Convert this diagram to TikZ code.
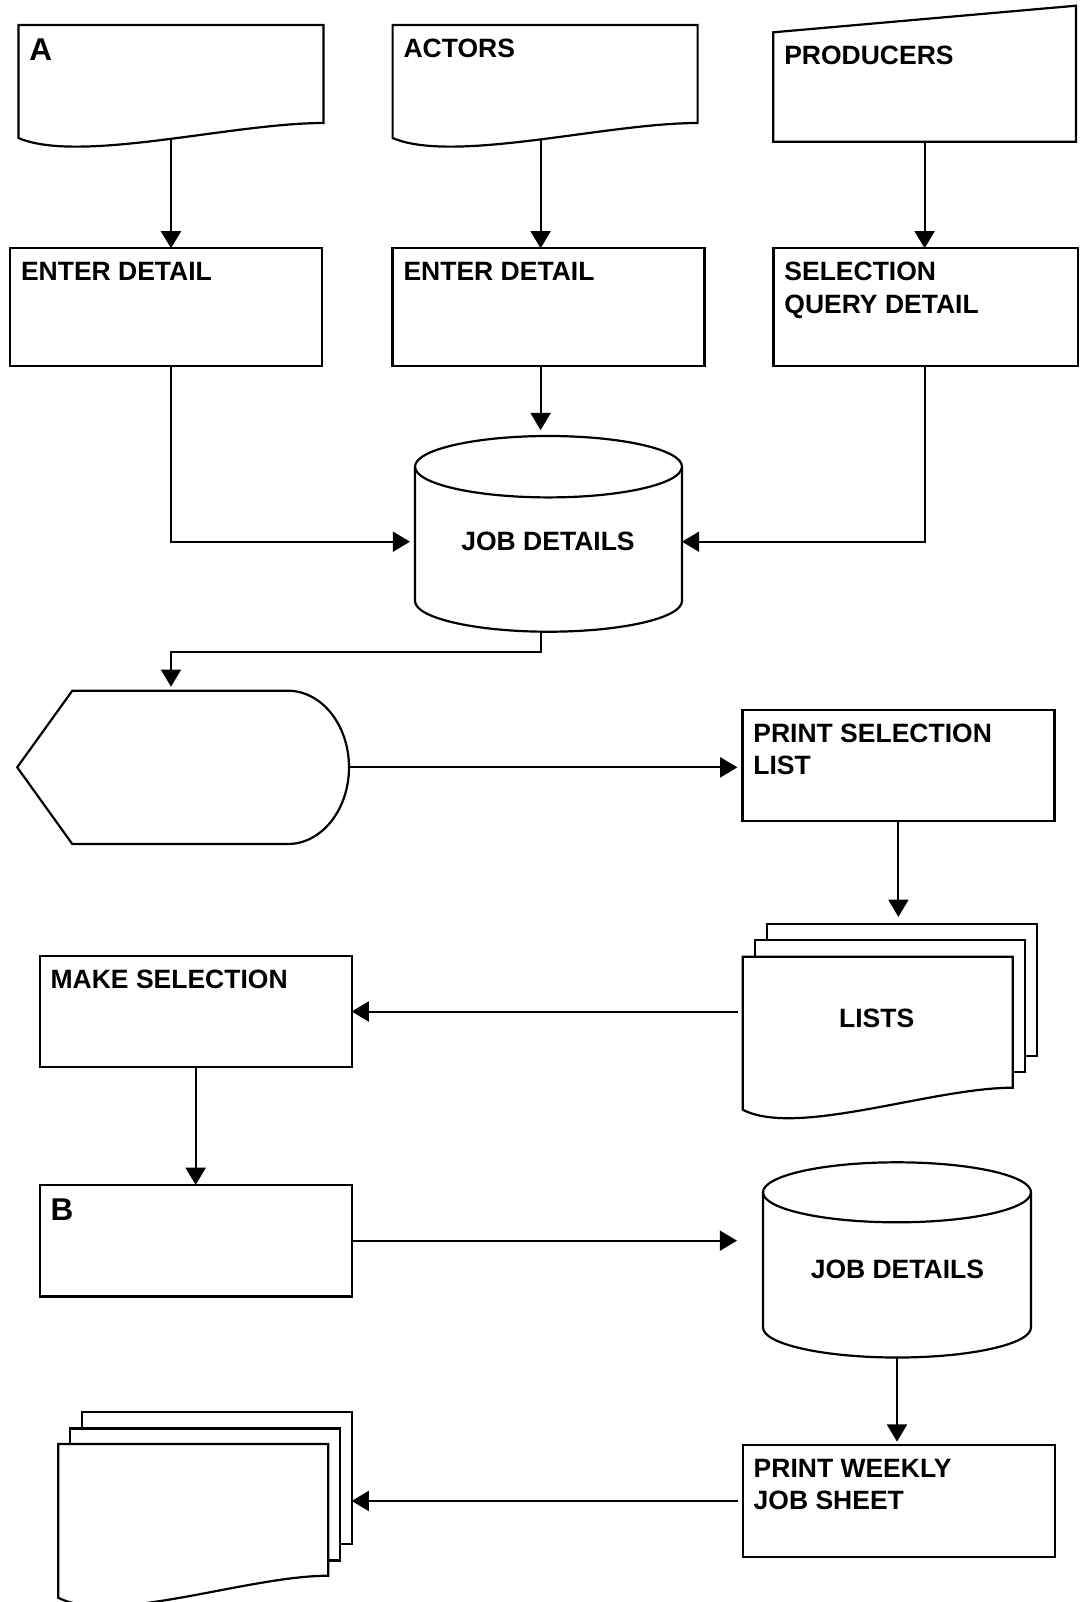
\documentclass[tikz,border=0pt]{standalone}
\usepackage{fontspec}
\setmainfont{Liberation Sans}
\usetikzlibrary{arrows.meta}

% document sheet: top left, width, height to right corner, left drop, dip
\newcommand{\docsheet}[5]{%
  \draw[flowline,fill=white] (#1) -- ++(#2,0) -- ++(0,#3)
    .. controls +({-0.3*#2},0) and +({0.2*#2},#5) .. ++({-#2},#4)
    -- cycle;}
% stored data drum: centre x, top y, bottom y, x radius, y radius
\newcommand{\dbdrum}[5]{%
  \draw[flowline,fill=white] ({#1-#4},#2) -- ({#1-#4},#3)
    .. controls +(0,{0.55*#5}) and +({-0.55*#4},0) .. (#1,{#3+#5})
    .. controls +({0.55*#4},0) and +(0,{0.55*#5}) .. ({#1+#4},#3)
    -- ({#1+#4},#2);
  \draw[flowline] (#1,#2) ellipse [x radius=#4, y radius=#5];}

\begin{document}
\begin{tikzpicture}[x=0.5pt,y=-0.5pt,
  flowline/.style={line width=1.1pt},
  box/.style={draw,line width=1.1pt,fill=white,inner sep=0pt,outer sep=0pt,minimum width=156pt,minimum height=55.75pt},
  sheet/.style={draw,line width=1.1pt,fill=white,inner sep=0pt,outer sep=0pt,minimum width=135pt,minimum height=66pt},
  hold/.style={inner sep=0pt,outer sep=0pt},
  txt/.style={anchor=north west,inner xsep=5.5pt,inner ysep=7pt,outer sep=0pt,align=left,font=\fontsize{13.25}{16.25}\selectfont\bfseries},
  big/.style={font=\fontsize{15.75}{19}\selectfont\bfseries},
  midtxt/.style={inner sep=0pt,font=\fontsize{13.25}{16.25}\selectfont\bfseries},
  arr/.style={line width=1pt,-{Triangle[length=8.6pt,width=10pt]}}]
\useasboundingbox (0,0) rectangle (1080,1602);

% inputs
\docsheet{18.4,25}{305}{98}{15}{26}
\node[txt,big] (srcA) at (18.4,25) {A};
\coordinate (srcA-s) at (171,138);
\docsheet{392.6,25}{305}{98}{15}{26}
\node[txt] (actors) at (392.6,25) {ACTORS};
\coordinate (actors-s) at (540.6,138.5);
\draw[flowline,fill=white] (773.3,32.3) -- (1076,5.7) -- (1076,141.7) -- (773.3,141.7) -- cycle;
\node[txt] (producers) at (773.3,32.3) {PRODUCERS};
\coordinate (producers-s) at (924.6,141.7);

% entry
\node[box,minimum height=58.85pt] (enter1) at (166,307.15) {};
\node[txt] (enter1-t) at (enter1.north west) {ENTER DETAIL};
\node[box,minimum height=58.85pt] (enter2) at (548.55,307.15) {};
\node[txt] (enter2-t) at (enter2.north west) {ENTER DETAIL};
\node[box,minimum width=152.3pt,minimum height=58.85pt] (query) at (925.7,307.15) {};
\node[txt] (query-t) at (query.north west) {SELECTION\\QUERY DETAIL};

\draw[arr] (srcA-s) -- (srcA-s |- enter1.north);
\draw[arr] (actors-s) -- (actors-s |- enter2.north);
\draw[arr] (producers-s) -- (producers-s |- query.north);

% job details store
\dbdrum{548.5}{466.7}{601}{133.5}{30.7}
\node[hold,minimum width=133.5pt,minimum height=97.85pt] (jobs1) at (548.5,534) {};
\node[midtxt] (jobs1-t) at (548,541.7) {JOB DETAILS};

\draw[arr,shorten >=3pt] (actors-s |- enter2.south) -- (actors-s |- jobs1.north);
\draw[arr,shorten >=2.5pt] (srcA-s |- enter1.south) |- (jobs1-t -| jobs1.west);
\draw[arr] (producers-s |- query.south) |- (jobs1-t -| jobs1.east);

% display
\draw[flowline,fill=white] (17.2,767.3) -- (72.3,690.7) -- (287.9,690.7)
  .. controls +(33.7,0) and +(0,-42.3) .. (349,767.3)
  .. controls +(0,42.3) and +(33.7,0) .. (287.9,844)
  -- (72.3,844) -- cycle;
\node[hold,minimum width=166pt,minimum height=76.65pt] (disp) at (183.1,767.35) {};

\draw[arr,shorten >=2pt] (actors-s |- jobs1.south) -- ++(0,20.6) -| (srcA-s |- disp.north);

\node[box] (psel) at (898.4,765.5) {};
\node[txt] (psel-t) at (psel.north west) {PRINT SELECTION\\LIST};
\draw[arr,shorten >=2.5pt] (disp.east) -- (disp.east -| psel.west);

% lists
\node[sheet] (lists3) at (901.7,989.85) {};
\node[sheet] (lists2) at (889.65,1005.85) {};
\docsheet{742.7,956.7}{270}{131}{22}{28}
\coordinate (lists1) at (742.7,956.7);
\node[midtxt] (lists-t) at (876.7,1018.3) {LISTS};
\draw[arr,shorten >=3.5pt] (psel.south) -- (psel.south |- lists3.north);

\node[box] (make) at (195.65,1011.5) {};
\node[txt] (make-t) at (make.north west) {MAKE SELECTION};
\draw[arr,shorten <=2.5pt] (make.east -| lists1) -- (make.east);

\node[box] (slotB) at (195.65,1240.65) {};
\node[txt,big] (slotB-t) at (slotB.north west) {B};
\draw[arr] (make.south) -- (slotB.north);

% second store
\dbdrum{897}{1192.3}{1327.5}{134}{30}
\node[hold,minimum width=134pt,minimum height=97.6pt] (jobs2) at (897,1259.9) {};
\node[midtxt] (jobs2-t) at (897.4,1269.3) {JOB DETAILS};
\draw[arr,shorten >=13pt] (slotB.east) -- (slotB.east -| jobs2.west);

\node[box] (pweek) at (898.7,1500.95) {};
\node[txt] (pweek-t) at (pweek.north west) {PRINT WEEKLY\\JOB SHEET};
\draw[arr,shorten >=1.8pt] (jobs2.south) -- (jobs2.south |- pweek.north);

% job sheets
\node[sheet] (sheets3) at (216.7,1478.3) {};
\node[sheet] (sheets2) at (205,1494.5) {};
\docsheet{58.3,1444}{270}{131.7}{22}{28}
\draw[arr,shorten <=2.5pt] (pweek.west) -- (pweek.west -| sheets3.east);
\end{tikzpicture}
\end{document}
